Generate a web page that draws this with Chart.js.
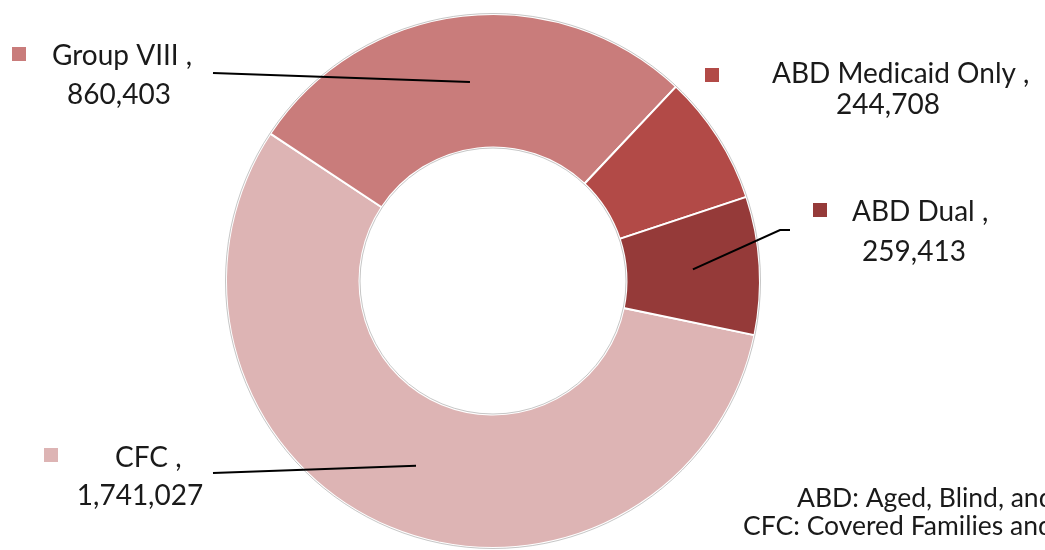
<!DOCTYPE html>
<html lang="en">
<head>
    <meta charset="UTF-8">
    <title>Enrollment by Group</title>
    <script src="https://cdn.jsdelivr.net/npm/chart.js"></script>
    <style>
        body { margin: 0; background: #ffffff; overflow: hidden; }
        #wrap { width: 1045px; height: 550px; }
    </style>
</head>
<body>
    <div id="wrap">
        <canvas id="enrollDoughnut" width="1045" height="550"></canvas>
    </div>

    <script>
        // data
        const categories = ['CFC', 'Group VIII', 'ABD Medicaid Only', 'ABD Dual'];
        const enrollment = [1741027, 860403, 244708, 259413];
        const footnotes = ['ABD: Aged, Blind, and Disabled', 'CFC: Covered Families and Children'];

        const sliceColors = ['#ddb4b4', '#c97c7b', '#b24a47', '#953a39'];
        const FONT = 'Lato, "Liberation Sans", sans-serif';

        // where each data label sits (marker box, first line left edge, second line centre, leader start)
        const labelLayout = [
            { box: [44, 448], l1: [115, 467], l2: [140, 505], leader: [[213, 473]] },
            { box: [12, 47], l1: [52, 65], l2: [119, 104], leader: [[213, 73]] },
            { box: [705, 68], l1: [772, 83], l2: [888, 114], leader: null },
            { box: [813, 203], l1: [852, 221], l2: [914, 261], leader: [[790, 230], [780, 230]] }
        ];

        const labelPlugin = {
            id: 'labelPlugin',
            afterDatasetsDraw(chart) {
                const ctx = chart.ctx;
                const meta = chart.getDatasetMeta(0);
                const first = meta.data[0];

                // faint rim round the ring
                ctx.save();
                ctx.strokeStyle = 'rgba(160,160,160,0.6)';
                ctx.lineWidth = 1;
                ctx.beginPath();
                ctx.arc(first.x, first.y, first.outerRadius + 0.5, 0, Math.PI * 2);
                ctx.stroke();
                ctx.beginPath();
                ctx.arc(first.x, first.y, first.innerRadius - 0.5, 0, Math.PI * 2);
                ctx.stroke();
                ctx.restore();

                ctx.save();
                categories.forEach((name, i) => {
                    const lay = labelLayout[i];
                    const arc = meta.data[i];

                    if (lay.leader) {
                        const c = arc.getCenterPoint();
                        ctx.strokeStyle = '#000000';
                        ctx.lineWidth = 2;
                        ctx.beginPath();
                        ctx.moveTo(lay.leader[0][0], lay.leader[0][1]);
                        for (let k = 1; k < lay.leader.length; k++) {
                            ctx.lineTo(lay.leader[k][0], lay.leader[k][1]);
                        }
                        ctx.lineTo(c.x, c.y);
                        ctx.stroke();
                    }

                    ctx.fillStyle = sliceColors[i];
                    ctx.fillRect(lay.box[0], lay.box[1], 14, 14);

                    ctx.fillStyle = '#1a1a1a';
                    ctx.font = '28px ' + FONT;
                    ctx.textBaseline = 'alphabetic';
                    ctx.textAlign = 'left';
                    ctx.fillText(name + ' ,', lay.l1[0], lay.l1[1]);
                    ctx.textAlign = 'center';
                    ctx.fillText(enrollment[i].toLocaleString('en-US'), lay.l2[0], lay.l2[1]);
                });

                // footnote runs off the right edge, as in the original
                ctx.font = '26.5px ' + FONT;
                ctx.textAlign = 'left';
                ctx.fillStyle = '#1a1a1a';
                ctx.fillText(footnotes[0], 797, 507);
                ctx.fillText(footnotes[1], 743, 535);
                ctx.restore();
            }
        };

        const ctx = document.getElementById('enrollDoughnut').getContext('2d');

        const enrollChart = new Chart(ctx, {
            type: 'doughnut',
            data: {
                labels: categories,
                datasets: [{
                    data: enrollment,
                    backgroundColor: sliceColors,
                    borderColor: '#ffffff',
                    borderWidth: 2
                }]
            },
            options: {
                responsive: false,
                animation: false,
                cutout: '50%',
                rotation: 101.7,
                layout: { padding: { left: 225, right: 284, top: 13, bottom: 1 } },
                plugins: {
                    legend: { display: false },
                    tooltip: { enabled: false }
                }
            },
            plugins: [labelPlugin]
        });
    </script>
</body>
</html>
